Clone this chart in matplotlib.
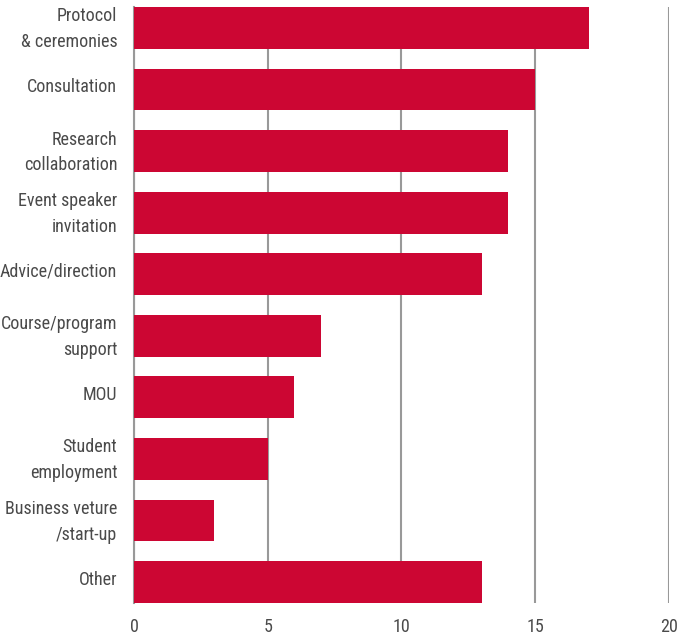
import matplotlib.pyplot as plt
import matplotlib.transforms as mtransforms
from matplotlib import font_manager

categories = ['Protocol\n& ceremonies', 'Consultation', 'Research\ncollaboration',
              'Event speaker\ninvitation', 'Advice/direction', 'Course/program\nsupport',
              'MOU', 'Student\nemployment', 'Business veture\n/start-up', 'Other']
values = [17, 15, 14, 14, 13, 7, 6, 5, 3, 13]
xticks = [0, 5, 10, 15, 20]

# pick a narrow face if one is installed
names = set(f.name for f in font_manager.fontManager.ttflist)
family = 'DejaVu Sans'
for cand in ['Roboto Condensed', 'Liberation Sans Narrow', 'Open Sans Condensed']:
    if cand in names:
        family = cand
        break
plt.rcParams['font.family'] = [family, 'DejaVu Sans']
plt.rcParams['font.stretch'] = 'condensed'

fig = plt.figure(figsize=(6.78, 6.39), dpi=100)
ax = fig.add_axes([0.1976, 0.0563, 0.789, 0.9327])

ypos = list(range(len(categories)))
ax.barh(ypos, values, height=0.68, color='#CC0633', zorder=3)

ax.set_ylim(len(categories) - 1 + 0.34, -0.34)
ax.set_xlim(0, 20)
ax.set_yticks(ypos)
ax.set_yticklabels(categories, fontsize=13, color='#4a4a4a', linespacing=1.55)
ax.set_xticks(xticks)
ax.set_xticklabels([str(x) for x in xticks], fontsize=13, color='#4a4a4a')
ax.tick_params(length=0)
ax.tick_params(axis='y', pad=12)
ax.tick_params(axis='x', pad=11)

# nudge the category labels up a little
shift = mtransforms.ScaledTranslation(0, 4.5 / 100, fig.dpi_scale_trans)
for lbl in ax.get_yticklabels():
    lbl.set_transform(lbl.get_transform() + shift)

ax.grid(axis='x', color='#999999', linewidth=1.5, zorder=0)
ax.set_axisbelow(True)
for s in ['top', 'right', 'bottom']:
    ax.spines[s].set_visible(False)
ax.spines['left'].set_color('#999999')
ax.spines['left'].set_linewidth(1.5)

fig.savefig('out.png', dpi=100)
